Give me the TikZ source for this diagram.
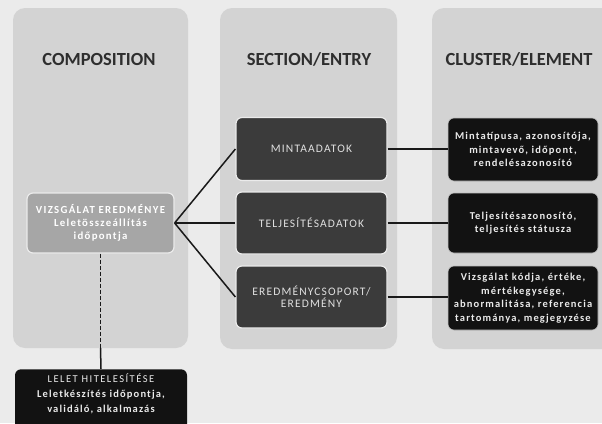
\documentclass[tikz,border=0pt]{standalone}
\usepackage{fontspec}
\setmainfont{Carlito}
\newfontfamily\secfont[LetterSpace=10]{Carlito}
\newfontfamily\compfont[LetterSpace=12]{Carlito}
\newfontfamily\elfont[LetterSpace=11]{Carlito}
\newfontfamily\authcaps[LetterSpace=14]{Carlito}
\begin{document}
\begin{tikzpicture}[x=1pt,y=-1pt,
  panel/.style={fill=panelgray, rounded corners=12pt},
  header/.style={font=\fontsize{18.5}{20}\selectfont\bfseries, text=black!82},
  compbox/.style={fill=compgray, draw=white!92!black, line width=1.2pt, rounded corners=6pt,
    text=white, align=center, inner sep=0pt,
    font=\compfont\fontsize{10.8}{13}\selectfont\bfseries},
  secbox/.style={fill=secgray, draw=white!92!black, line width=1.2pt, rounded corners=6pt,
    text=white!88!black, align=center, inner sep=0pt,
    font=\secfont\fontsize{11.5}{12}\selectfont},
  elbox/.style={fill=black!93, draw=white!75!black, line width=0.6pt, rounded corners=6pt,
    text=white!92!black, align=center, inner sep=0pt,
    font=\elfont\fontsize{10.5}{13.5}\selectfont\bfseries},
  link/.style={draw=black!90, line width=1.5pt}
]
\definecolor{bggray}{HTML}{EBEBEB}
\definecolor{panelgray}{HTML}{D3D3D3}
\definecolor{compgray}{HTML}{A6A6A6}
\definecolor{secgray}{HTML}{3B3B3B}

% page and the three column panels
\fill[bggray] (0,0) rectangle (602,423);
\useasboundingbox (0,0) rectangle (602,423);
\fill[panel] (13,8) rectangle (188,348);
\fill[panel] (220,8) rectangle (397,349);
\fill[panel] (432,8) rectangle (615,349);

% column headers
\node[header] (hcomp) at (99,59) {COMPOSITION};
\node[header] (hsec) at (309,59) {SECTION/ENTRY};
\node[header] (hclu) at (519,59) {CLUSTER/ELEMENT};

% composition
\node[compbox, minimum width=147pt, minimum height=60pt] (comp) at (100.5,223)
  {VIZSGÁLAT EREDMÉNYE\\Leletösszeállítás\\időpontja};

% sections
\node[secbox, minimum width=151pt, minimum height=63pt] (s1) at (311.5,149) {MINTAADATOK};
\node[secbox, minimum width=151pt, minimum height=62pt] (s2) at (311.5,223) {TELJESÍTÉSADATOK};
\node[secbox, minimum width=151pt, minimum height=62pt] (s3) at (311.5,297) {EREDMÉNYCSOPORT/\\EREDMÉNY};

% elements
\node[elbox, minimum width=150pt, minimum height=63pt] (e1) at (523,149.5)
  {Mintatípusa, azonosítója,\\mintavevő, időpont,\\rendelésazonosító};
\node[elbox, minimum width=150pt, minimum height=60pt] (e2) at (523,223)
  {Teljesítésazonosító,\\teljesítés státusza};
\node[elbox, minimum width=150pt, minimum height=64pt] (e3) at (523,298)
  {Vizsgálat kódja, értéke,\\mértékegysége,\\abnormalitása, referencia\\tartománya, megjegyzése};

% authentication box, running off the bottom edge
\node[elbox, draw=none, font=\elfont\fontsize{10.5}{15}\selectfont\bfseries,
  minimum width=172pt, minimum height=66pt, anchor=north] (auth) at (101,369)
  {{\authcaps\mdseries LELET HITELESÍTÉSE}\\Leletkészítés időpontja,\\validáló, alkalmazás\\[4pt]};

% connectors
\draw[link] (comp.east) -- (s1.west);
\draw[link] (comp.east) -- (s2.west);
\draw[link] (comp.east) -- (s3.west);
\draw[link] (s1.east) -- (e1.west |- s1.east);
\draw[link] (s2.east) -- (e2.west |- s2.east);
\draw[link] (s3.east) -- (e3.west |- s3.east);
\coordinate (panelfoot) at (comp.south |- 0,348);
\draw[link, dash pattern=on 4pt off 2pt] (comp.south) -- (panelfoot);
\draw[link] (panelfoot) -- (auth.north);
\end{tikzpicture}
\end{document}
